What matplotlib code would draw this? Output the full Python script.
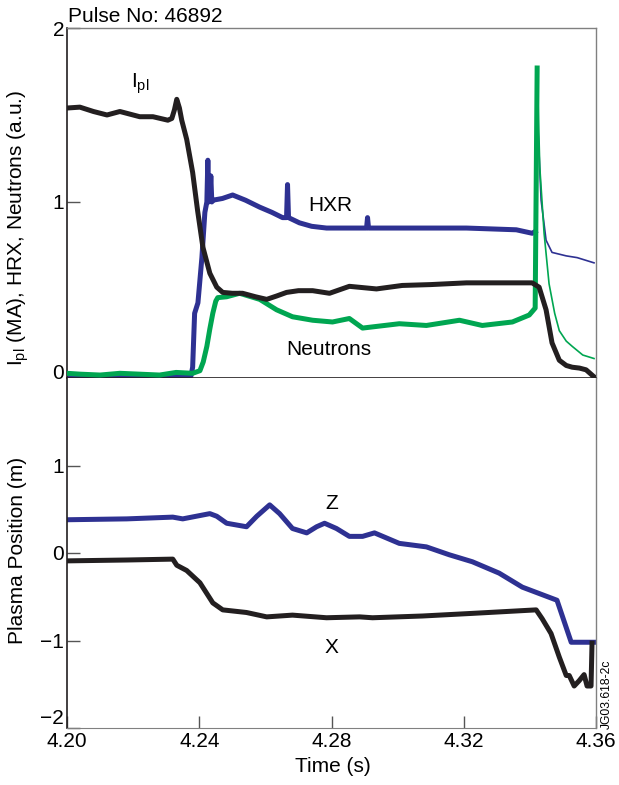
import matplotlib
matplotlib.use("Agg")
import matplotlib.pyplot as plt
from matplotlib.transforms import ScaledTranslation

plt.rcParams['font.family'] = ['Liberation Sans', 'DejaVu Sans']
plt.rcParams['mathtext.fontset'] = 'custom'
plt.rcParams['mathtext.rm'] = 'Liberation Sans'
plt.rcParams['mathtext.it'] = 'Liberation Sans'

BLACK = '#231f20'
BLUE = '#2e3192'
GREEN = '#00a651'

# ---- Top panel data ----
ipl_t = [4.2000, 4.2039, 4.2080, 4.2121, 4.2160, 4.2190, 4.2220, 4.2260, 4.2305,
         4.2317, 4.2325, 4.2332, 4.2340, 4.2347, 4.2362, 4.2380, 4.2395, 4.2411,
         4.2432, 4.2453, 4.2471, 4.2500, 4.2531, 4.2570, 4.2604, 4.2635, 4.2664,
         4.2700, 4.2743, 4.2794, 4.2854, 4.2936, 4.3014, 4.3100, 4.3208, 4.3407,
         4.3428, 4.3449, 4.3467, 4.3489, 4.3510, 4.3528, 4.3550, 4.3570, 4.3594]
ipl_v = [1.54, 1.545, 1.52, 1.50, 1.52, 1.505, 1.49, 1.49, 1.47,
         1.48, 1.53, 1.59, 1.54, 1.47, 1.36, 1.17, 0.95, 0.74,
         0.59, 0.51, 0.48, 0.475, 0.475, 0.455, 0.44, 0.46, 0.48,
         0.49, 0.49, 0.475, 0.515, 0.50, 0.52, 0.525, 0.535, 0.535,
         0.51, 0.38, 0.19, 0.09, 0.06, 0.05, 0.045, 0.035, -0.005]

hxr_t = [4.2000, 4.2375, 4.2380, 4.2386, 4.2396, 4.2408, 4.2417, 4.2423, 4.2426,
         4.2429, 4.2432, 4.2435, 4.2438, 4.2441, 4.2470, 4.2501, 4.2540, 4.2583,
         4.2620, 4.2652, 4.2664, 4.2667, 4.2670, 4.2703, 4.2740, 4.2785, 4.2854,
         4.2906, 4.2909, 4.2912, 4.3014, 4.3208, 4.3359, 4.3407, 4.3416]
hxr_v = [0.0, 0.0, 0.05, 0.36, 0.42, 0.68, 0.94, 1.00, 1.24,
         1.00, 1.02, 1.15, 1.00, 1.01, 1.02, 1.04, 1.01, 0.97,
         0.94, 0.91, 0.91, 1.10, 0.91, 0.88, 0.86, 0.85, 0.85,
         0.85, 0.91, 0.85, 0.85, 0.85, 0.84, 0.82, 0.83]
hxr_tail_t = [4.3416, 4.3419, 4.3425, 4.3434, 4.3449, 4.3467, 4.3510, 4.3543, 4.3594]
hxr_tail_v = [0.83, 1.59, 1.40, 1.01, 0.78, 0.71, 0.69, 0.68, 0.65]

neu_t = [4.2000, 4.2040, 4.2100, 4.2160, 4.2220, 4.2280, 4.2330, 4.2380, 4.2402,
         4.2412, 4.2423, 4.2432, 4.2441, 4.2450, 4.2456, 4.2483, 4.2522, 4.2583,
         4.2634, 4.2682, 4.2743, 4.2803, 4.2854, 4.2894, 4.3005, 4.3087, 4.3187,
         4.3256, 4.3347, 4.3398, 4.3416, 4.3422]
neu_v = [0.015, 0.01, 0.005, 0.015, 0.01, 0.005, 0.02, 0.015, 0.03,
         0.08, 0.17, 0.27, 0.36, 0.43, 0.45, 0.455, 0.475, 0.44,
         0.38, 0.34, 0.32, 0.31, 0.33, 0.275, 0.30, 0.29, 0.32,
         0.29, 0.31, 0.35, 0.39, 1.77]
neu_tail_t = [4.3422, 4.3430, 4.3443, 4.3458, 4.3475, 4.3489, 4.3510, 4.3528, 4.3560, 4.3594]
neu_tail_v = [1.77, 1.20, 0.82, 0.53, 0.36, 0.26, 0.20, 0.17, 0.12, 0.10]

# ---- Bottom panel data ----
z_t = [4.2000, 4.2181, 4.2320, 4.2350, 4.2432, 4.2453, 4.2483, 4.2543, 4.2574,
       4.2613, 4.2643, 4.2682, 4.2725, 4.2755, 4.2779, 4.2815, 4.2854, 4.2894,
       4.2930, 4.3005, 4.3087, 4.3156, 4.3226, 4.3307, 4.3377, 4.3419, 4.3482,
       4.3525, 4.3594]
z_v = [0.38, 0.39, 0.41, 0.39, 0.45, 0.42, 0.34, 0.30, 0.42,
       0.55, 0.45, 0.28, 0.23, 0.30, 0.34, 0.28, 0.19, 0.19,
       0.23, 0.11, 0.07, -0.02, -0.10, -0.23, -0.39, -0.45, -0.54,
       -1.02, -1.02]

x_t = [4.2000, 4.2181, 4.2320, 4.2332, 4.2362, 4.2402, 4.2441, 4.2471, 4.2543,
       4.2604, 4.2682, 4.2785, 4.2885, 4.2924, 4.3075, 4.3226, 4.3419, 4.3437,
       4.3464, 4.3489, 4.3510, 4.3519, 4.3534, 4.3549, 4.3564, 4.3573, 4.3585,
       4.3588]
x_v = [-0.09, -0.08, -0.07, -0.14, -0.20, -0.34, -0.57, -0.65, -0.68,
       -0.73, -0.71, -0.74, -0.73, -0.74, -0.72, -0.69, -0.65, -0.75,
       -0.92, -1.19, -1.40, -1.40, -1.52, -1.46, -1.39, -1.52, -1.52,
       -1.03]

x_ticks = [4.20, 4.24, 4.28, 4.32, 4.36]
x_ticklabels = ['4.20', '4.24', '4.28', '4.32', '4.36']

fig = plt.figure(figsize=(6.19, 7.85), dpi=100)
L, R = 67 / 619, 596 / 619
H = 785
ax1 = fig.add_axes([L, 1 - 378 / H, R - L, 350 / H])
ax2 = fig.add_axes([L, 1 - 728 / H, R - L, 350 / H])

LW = 3.6
ax1.plot(ipl_t, ipl_v, color=BLACK, lw=LW, solid_joinstyle='round', zorder=4)
ax1.plot(neu_t, neu_v, color=GREEN, lw=LW, solid_joinstyle='round', zorder=3)
ax1.plot(neu_tail_t, neu_tail_v, color=GREEN, lw=1.2, zorder=3)
ax1.plot(hxr_t, hxr_v, color=BLUE, lw=LW, solid_joinstyle='round', zorder=2)
ax1.plot(hxr_tail_t, hxr_tail_v, color=BLUE, lw=1.2, zorder=2)

ax2.plot(z_t, z_v, color=BLUE, lw=LW, solid_joinstyle='round')
ax2.plot(x_t, x_v, color=BLACK, lw=LW, solid_joinstyle='round')

FS = 15
for ax in (ax1, ax2):
    ax.set_xlim(4.20, 4.36)
    for s in ('top', 'right'):
        ax.spines[s].set_color('#808080')
        ax.spines[s].set_linewidth(1.0)
    ax.spines['left'].set_color(BLACK)
    ax.spines['left'].set_linewidth(1.2)
    ax.tick_params(axis='y', direction='in', length=9, width=1, color='#555555',
                   pad=2, labelsize=FS, right=False)
    ax.tick_params(axis='x', direction='in', length=9, width=1, color='#555555',
                   pad=3, labelsize=FS, top=False)

ax1.spines['bottom'].set_color(BLACK)
ax1.spines['bottom'].set_linewidth(1.2)
ax2.spines['top'].set_visible(False)
ax2.spines['bottom'].set_color('#808080')

ax1.set_ylim(-0.012, 2.0)
ax1.set_yticks([0, 1, 2])
ax1.set_yticklabels(['0', '1', '2'])
ax1.set_xticks([])

ax2.set_ylim(-2.0, 2.0)
ax2.set_yticks([-2, -1, 0, 1])
ax2.set_yticklabels(['\u22122', '\u22121', '0', '1'])
ax2.set_xticks(x_ticks)
ax2.set_xticklabels(x_ticklabels)
# the lowest label sits just above the axis corner, as in the reference
ax2.get_yticklabels()[0].set_verticalalignment('bottom')
lab0 = ax1.get_yticklabels()[0]
lab0.set_transform(lab0.get_transform() + ScaledTranslation(0, 3 / 72, fig.dpi_scale_trans))

ax1.text(4.2193, 1.68, r'I$_{\rm pl}$', fontsize=FS, ha='left', va='center')
ax1.text(4.2730, 0.98, 'HXR', fontsize=FS, ha='left', va='center')
ax1.text(4.2664, 0.15, 'Neutrons', fontsize=FS, ha='left', va='center')
ax2.text(4.2800, 0.57, 'Z', fontsize=FS, ha='center', va='center')
ax2.text(4.2800, -1.08, 'X', fontsize=FS, ha='center', va='center')

fig.text(68 / 619, 1 - 16 / H, 'Pulse No: 46892', fontsize=FS, ha='left', va='center')
fig.text(18 / 619, 1 - 228 / H, r'I$_{\rm pl}$ (MA), HRX, Neutrons (a.u.)', fontsize=FS,
         rotation=90, ha='center', va='center')
fig.text(18 / 619, 1 - 550 / H, 'Plasma Position (m)', fontsize=FS,
         rotation=90, ha='center', va='center')
fig.text(333 / 619, 1 - 766 / H, 'Time (s)', fontsize=FS, ha='center', va='center')
fig.text(607 / 619, 1 - 729 / H, 'JG03.618-2c', fontsize=8.7, rotation=90,
         ha='center', va='bottom')

fig.savefig('out.png', dpi=100)
